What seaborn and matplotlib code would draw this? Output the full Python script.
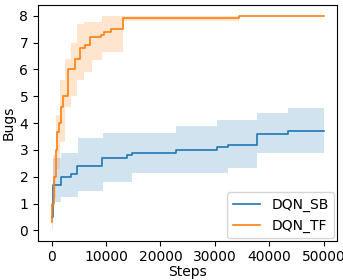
import numpy as np
import pandas as pd
import matplotlib
matplotlib.use("Agg")
import matplotlib.pyplot as plt
import seaborn as sns

# DQN_SB (stable-baselines) mean and band, step-wise
sb_steps = [0, 200, 1650, 3600, 4700, 9300, 13900, 14800, 22800, 30350, 32400, 37700, 43450, 50000]
sb_mean  = [0.5, 1.7, 2.0, 2.1, 2.4, 2.7, 2.8, 2.9, 3.0, 3.1, 3.2, 3.6, 3.7, 3.7]
sb_band_steps = [0, 200, 1800, 4800, 9400, 14800, 22800, 30400, 32400, 37700, 43400, 50000]
sb_low  = [0.3, 1.05, 1.25, 1.47, 1.81, 2.13, 2.13, 2.13, 2.33, 2.87, 2.87, 2.87]
sb_high = [0.8, 2.7, 2.87, 3.43, 3.64, 3.64, 3.89, 4.1, 4.1, 4.38, 4.58, 4.58]

# DQN_TF (tensorflow) mean and band
tf_steps = [0, 120, 430, 860, 1040, 1300, 1650, 2070, 3000, 4200, 5130, 6040, 6960, 9100, 9700, 10900, 13200, 34400, 50000]
tf_mean  = [0.3, 1.0, 2.0, 3.0, 3.67, 4.0, 4.6, 5.0, 6.0, 6.4, 6.8, 6.9, 7.2, 7.3, 7.4, 7.5, 7.9, 8.0, 8.0]
tf_band_steps = [0, 300, 800, 1500, 2500, 3500, 4700, 6000, 7500, 9300, 13200, 34400, 50000]
tf_low  = [0.0, 1.2, 2.3, 3.3, 4.6, 5.0, 5.6, 5.9, 6.35, 6.66, 7.8, 8.0, 8.0]
tf_high = [1.0, 2.8, 4.3, 5.6, 6.4, 7.0, 7.7, 7.75, 7.75, 8.0, 8.0, 8.0, 8.0]

labels = ["DQN_SB", "DQN_TF"]
colors = ["#1f77b4", "#ff7f0e"]

df = pd.concat([
    pd.DataFrame({"Steps": sb_steps, "Bugs": sb_mean, "algo": labels[0]}),
    pd.DataFrame({"Steps": tf_steps, "Bugs": tf_mean, "algo": labels[1]}),
])

plt.rcParams.update({"font.size": 10})
fig = plt.figure(figsize=(3.43, 2.80), dpi=100)
ax = fig.add_axes([0.111, 0.139, 0.872, 0.843])

sns.lineplot(data=df, x="Steps", y="Bugs", hue="algo", palette=colors,
             drawstyle="steps-post", linewidth=1.2, ax=ax, errorbar=None)

ax.fill_between(sb_band_steps, sb_low, sb_high, step="post", color=colors[0], alpha=0.2, linewidth=0)
ax.fill_between(tf_band_steps, tf_low, tf_high, step="post", color=colors[1], alpha=0.2, linewidth=0)

ax.set_xticks([0, 10000, 20000, 30000, 40000, 50000])
ax.set_yticks(range(0, 9))
ax.tick_params(axis="x", pad=3)
ax.set_xlabel("Steps", labelpad=0.5)
ax.set_ylabel("Bugs", labelpad=3)
ax.legend(loc="lower right", title=None, borderaxespad=0.2)

fig.savefig("out.png", dpi=100)
